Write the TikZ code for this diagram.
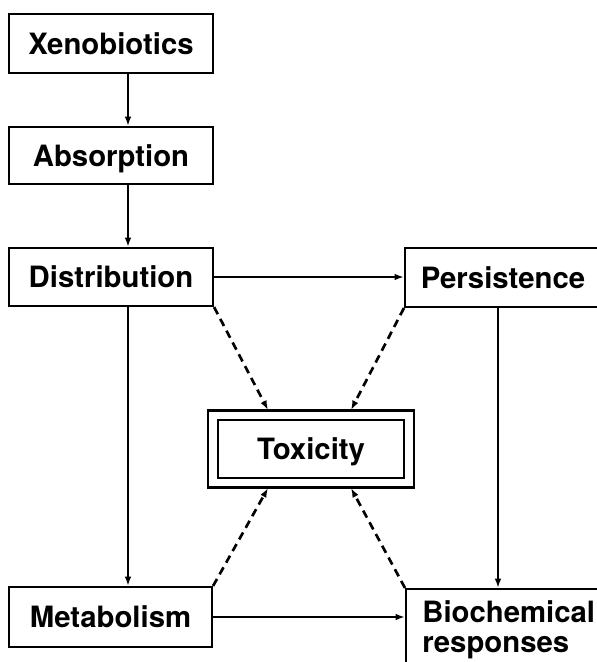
\documentclass[tikz,border=0pt]{standalone}
\usepackage{fontspec}
\usepackage{tikz}
\usetikzlibrary{arrows.meta,calc}
\newfontfamily\stagefont{TeX Gyre Heros}

\tikzset{
    stage/.style = {draw, line width=1.6pt, inner sep=0pt,
        font=\stagefont\bfseries\fontsize{22}{22.5}\selectfont},
    oneline/.style = {text height=16pt, text depth=0pt},
    flow/.style = {line width=1.5pt, -{Latex[length=7pt,width=5pt]}},
    link/.style = {line width=2pt, dash pattern=on 6pt off 4pt,
        -{Latex[length=7pt,width=5pt]}}
}

\begin{document}
\begin{tikzpicture}[x=0.75pt,y=-0.75pt]
    \useasboundingbox (0,0) rectangle (597,662);
    % Left column
    \node[stage, oneline, minimum width=153pt, minimum height=44.25pt] (xen) at (111,43.5) {Xenobiotics};
    \node[stage, oneline, minimum width=153pt, minimum height=42.75pt] (abs) at (111,155.5) {Absorption};
    \node[stage, oneline, minimum width=153pt, minimum height=43.5pt] (dist) at (111,277) {Distribution};
    \node[stage, oneline, minimum width=152.25pt, minimum height=45pt] (meta) at (110.5,617) {Metabolism};
    % Right column
    \node[stage, oneline, minimum width=147pt, minimum height=44.25pt] (pers) at (503,277.5) {Persistence};
    \node[stage, anchor=north west, align=left, inner xsep=12pt, inner ysep=9pt,
        minimum width=154pt] (bio) at (405,588) {Biochemical\\responses};
    % Toxicity
    \node[stage, oneline, double, double distance=5.5pt, outer sep=4pt,
        minimum width=147pt, minimum height=50.6pt] (tox) at (311,449) {Toxicity};
    % Lines
    \coordinate (vl) at (128,0);
    \coordinate (vr) at (498,0);
    \coordinate (dl) at (268,0);
    \coordinate (dr) at (351,0);
    \draw[flow] (xen.south -| vl) -- (abs.north -| vl);
    \draw[flow] (abs.south -| vl) -- (dist.north -| vl);
    \draw[flow] (dist.south -| vl) -- (meta.north -| vl);
    \draw[flow] (pers.south -| vr) -- (bio.north -| vr);
    \draw[flow] (dist.east) -- (dist.east -| pers.west);
    \draw[flow] (meta.east) -- (meta.east -| bio.west);
    % Dashed
    \draw[link] (dist.south east) -- (tox.north -| dl);
    \draw[link] (pers.south west) -- (tox.north -| dr);
    \draw[link] (meta.north east) -- (tox.south -| dl);
    \draw[link] (bio.north west) -- (tox.south -| dr);
\end{tikzpicture}
\end{document}
